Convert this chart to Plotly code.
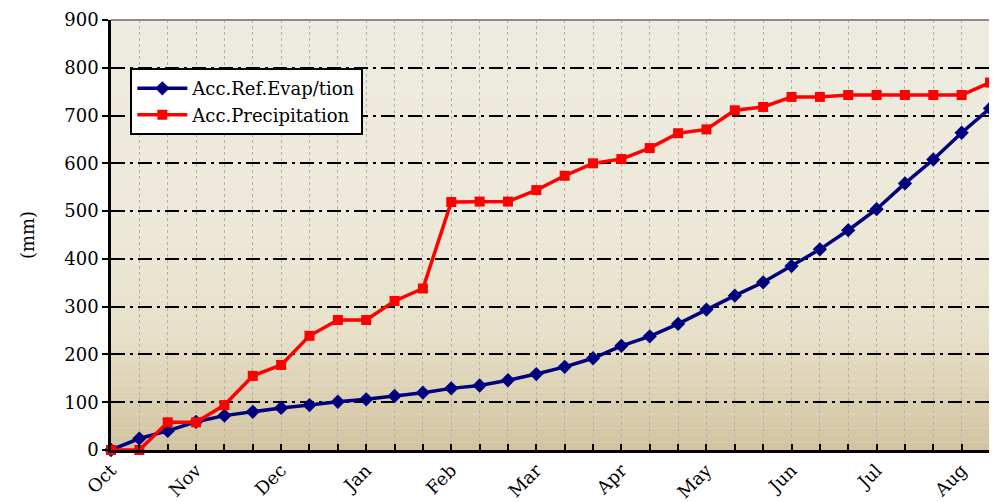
import plotly.graph_objects as go

# ---- data ----
month_labels = ["Oct", "", "", "Nov", "", "", "Dec", "", "", "Jan", "", "",
                "Feb", "", "", "Mar", "", "", "Apr", "", "", "May", "", "",
                "Jun", "", "", "Jul", "", "", "Aug", ""]
period_index = list(range(len(month_labels)))

acc_ref_evap = [0, 24, 40, 59, 72, 80, 88, 94, 101, 106, 113, 120,
                129, 135, 146, 159, 174, 192, 218, 238, 264, 294, 323, 351,
                385, 420, 460, 504, 558, 608, 664, 715]
acc_precip = [0, 0, 58, 58, 94, 155, 178, 239, 272, 272, 312, 338,
              519, 520, 520, 544, 574, 600, 609, 632, 663, 671, 711, 718,
              739, 739, 743, 743, 743, 743, 743, 769]

y_ticks = list(range(0, 901, 100))

FONT = "DejaVu Serif"

fig = go.Figure()
fig.add_trace(go.Scatter(
    x=period_index, y=acc_ref_evap, name="Acc.Ref.Evap/tion",
    mode="lines+markers", cliponaxis=False,
    line=dict(color="#00007F", width=3.5),
    marker=dict(symbol="diamond", size=11, color="#00007F")))
fig.add_trace(go.Scatter(
    x=period_index, y=acc_precip, name="Acc.Precipitation",
    mode="lines+markers", cliponaxis=False,
    line=dict(color="#FF0000", width=3.5),
    marker=dict(symbol="square", size=10, color="#FF0000")))

# background gradient (decoration)
def lerp(c1, c2, t):
    return "#%02X%02X%02X" % tuple(round(a + (b - a) * t) for a, b in zip(c1, c2))

stops = [(900, (0xED, 0xEB, 0xE0)), (500, (0xED, 0xE9, 0xDA)),
         (250, (0xE7, 0xE0, 0xC9)), (0, (0xD2, 0xC3, 0xA0))]
step = 15
for lo in range(0, 900, step):
    mid = lo + step / 2
    for (v1, c1), (v2, c2) in zip(stops[:-1], stops[1:]):
        if v2 <= mid <= v1:
            col = lerp(c1, c2, (v1 - mid) / (v1 - v2))
            break
    fig.add_shape(type="rect", xref="x domain", yref="y", x0=0, x1=1,
                  y0=lo, y1=lo + step, fillcolor=col, line_width=0,
                  layer="below")

# plot border (top/right gray)
fig.add_shape(type="line", xref="x domain", yref="y domain", x0=0, x1=1,
              y0=1, y1=1, line=dict(color="#8C8C8C", width=2), layer="above")
fig.add_shape(type="line", xref="x domain", yref="y domain", x0=1, x1=1,
              y0=0, y1=1, line=dict(color="#8C8C8C", width=2), layer="below")

# the page body has an 8px default margin, so the figure is sized to fit
fig.update_layout(
    width=989, height=494,
    margin=dict(l=103, r=7, t=12, b=52),
    paper_bgcolor="white", plot_bgcolor="#EDEBE0",
    font=dict(family=FONT, size=18, color="black"),
    showlegend=True,
    legend=dict(x=0.022, y=0.888, xanchor="left", yanchor="top",
                bgcolor="white", bordercolor="black", borderwidth=2,
                font=dict(family=FONT, size=18), tracegroupgap=0,
                itemwidth=50),
)
fig.update_xaxes(
    range=[0, 31], tickmode="array", tickvals=period_index, ticktext=month_labels,
    tickangle=-45, ticks="inside", ticklen=6, tickcolor="black", tickwidth=1.5,
    showline=True, linecolor="black", linewidth=2.5, automargin=False,
    showgrid=True, gridcolor="#B4B1A6", gridwidth=1, griddash="dot",
    zeroline=False, tickfont=dict(family=FONT, size=18))
fig.update_yaxes(
    range=[0, 900], tickmode="array", tickvals=y_ticks,
    ticks="outside", ticklen=6, tickcolor="black", tickwidth=1.5,
    showline=True, linecolor="black", linewidth=2.5, automargin=False,
    showgrid=True, gridcolor="black", gridwidth=1.5,
    griddash="14px,5px,3px,5px", zeroline=False,
    title=dict(text="(mm)", font=dict(family=FONT, size=18), standoff=25),
    tickfont=dict(family=FONT, size=18))

fig.write_html("out.html")
